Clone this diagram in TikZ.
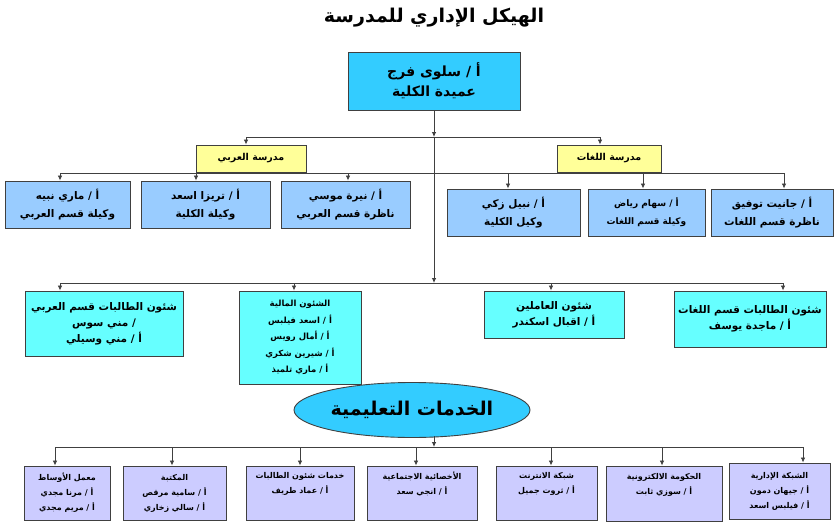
\documentclass[tikz,border=0pt]{standalone}
\usepackage{fontspec}
\usetikzlibrary{arrows.meta,shapes.geometric}
\TeXXeTstate=1
\newfontfamily\arfont[Script=Arabic]{DejaVu Sans}
\newcommand{\AR}[1]{\beginR #1\endR}
\definecolor{topc}{HTML}{33CCFF}
\definecolor{yelc}{HTML}{FFFF99}
\definecolor{r1c}{HTML}{99CCFF}
\definecolor{r2c}{HTML}{66FFFF}
\definecolor{r3c}{HTML}{CCCCFF}
\definecolor{linec}{HTML}{404040}
\begin{document}
\begin{tikzpicture}[x=1pt,y=-1pt,
  bx/.style={draw=linec, line width=0.9pt, inner sep=1pt, align=center, text=black},
  arr/.style={-{Latex[length=5pt,width=4.5pt]}, draw=linec, line width=0.8pt},
  ln/.style={draw=linec, line width=0.8pt},
  f20/.style={font=\arfont\bfseries\fontsize{19}{22}\selectfont},
  f15/.style={font=\arfont\bfseries\fontsize{14}{20}\selectfont},
  fy/.style={font=\arfont\bfseries\fontsize{9.5}{11}\selectfont},
  f11/.style={font=\arfont\bfseries\fontsize{10.5}{18}\selectfont},
  f11b/.style={font=\arfont\bfseries\fontsize{10.5}{16}\selectfont},
  f10/.style={font=\arfont\bfseries\fontsize{9}{18}\selectfont},
  fc2/.style={font=\arfont\bfseries\fontsize{8.5}{16.5}\selectfont},
  f8/.style={font=\arfont\bfseries\fontsize{8}{15}\selectfont}]
\useasboundingbox (0,0) rectangle (840,527);
\fill[white] (0,0) rectangle (840,527);

% title
\node[f20] (title) at (434,18) {\AR{الهيكل الإداري للمدرسة}};

% top box
\node[bx, fill=topc, minimum width=172pt, minimum height=58pt, f15] (top) at (434,81)
  {\AR{أ / سلوى فرج}\\\AR{عميدة الكلية}};

% yellow boxes
\node[bx, fill=yelc, minimum width=110pt, minimum height=27pt, fy] (ya) at (251,158.5) {\AR{مدرسة العربي}};
\node[bx, fill=yelc, minimum width=104pt, minimum height=27pt, fy] (yl) at (609,158.5) {\AR{مدرسة  اللغات}};

% row 1
\node[bx, fill=r1c, minimum width=125pt, minimum height=47pt, f11] (a1) at (67.5,204.5) {\AR{أ / ماري نبيه}\\\AR{وكيلة قسم العربي}};
\node[bx, fill=r1c, minimum width=129pt, minimum height=47pt, f11] (a2) at (205.5,204.5) {\AR{أ / تريزا اسعد}\\\AR{وكيلة الكلية}};
\node[bx, fill=r1c, minimum width=129pt, minimum height=47pt, f11] (a3) at (345.5,204.5) {\AR{أ / نيرة موسي}\\\AR{ناظرة قسم العربي}};
\node[bx, fill=r1c, minimum width=133pt, minimum height=47pt, f11] (a4) at (513.5,212.5) {\AR{أ / نبيل زكي}\\\AR{وكيل الكلية}};
\node[bx, fill=r1c, minimum width=117pt, minimum height=47pt, f10] (a5) at (646.5,212.5) {\AR{أ / سهام رياض}\\\AR{وكيلة قسم اللغات}};
\node[bx, fill=r1c, minimum width=122pt, minimum height=47pt, f11] (a6) at (772,212.5) {\AR{أ / جانيت توفيق}\\\AR{ناظرة قسم اللغات}};

% row 2
\node[bx, fill=r2c, minimum width=158pt, minimum height=65pt, f11b] (c1) at (104,323.5) {\AR{شئون الطالبات قسم العربي}\\\AR{/ مني سوس}\\\AR{أ / مني وسيلي}};
\node[bx, fill=r2c, minimum width=122pt, minimum height=93pt, fc2] (c2) at (300,337.5) {\AR{الشئون المالية}\\\AR{أ / اسعد فيلبس}\\\AR{أ / أمال رويس}\\\AR{أ / شيرين شكري}\\\AR{أ / ماري تلميذ}};
\node[bx, fill=r2c, minimum width=140pt, minimum height=47pt, f11b] (c3) at (554,314.5) {\AR{شئون العاملين}\\\AR{أ / اقبال اسكندر}};
\node[bx, fill=r2c, minimum width=152pt, minimum height=56pt, f11b] (c4) at (750,319) {\AR{شئون الطالبات قسم اللغات}\\\AR{أ / ماجدة يوسف}};

% ellipse
\node[ellipse, draw=linec, line width=0.9pt, fill=topc, inner sep=0pt, minimum width=236pt, minimum height=55pt, f20] (el) at (412,410) {\AR{الخدمات التعليمية}};

% bottom row
\node[bx, fill=r3c, minimum width=86pt, minimum height=54pt, f8] (e1) at (67,493) {\AR{معمل الأوساط}\\\AR{أ / مرنا مجدي}\\\AR{أ / مريم مجدي}};
\node[bx, fill=r3c, minimum width=103pt, minimum height=54pt, f8] (e2) at (174.5,493) {\AR{المكتبة}\\\AR{أ / سامية مرقص}\\\AR{أ / سالي زخاري}};
\node[bx, fill=r3c, minimum width=108pt, minimum height=54pt, f8] (e3) at (300,493) {\AR{خدمات شئون  الطالبات}\\\AR{أ / عماد طريف}\\\strut};
\node[bx, fill=r3c, minimum width=110pt, minimum height=54pt, f8] (e4) at (422,493) {\AR{الأخصائية  الاجتماعية}\\\AR{أ / انجي سعد}\\\strut};
\node[bx, fill=r3c, minimum width=101pt, minimum height=54pt, f8] (e5) at (546.5,493) {\AR{شبكة الانترنت}\\\AR{أ / ثروت جميل}\\\strut};
\node[bx, fill=r3c, minimum width=116pt, minimum height=55pt, f8] (e6) at (664,493.5) {\AR{الحكومة الالكترونية}\\\AR{أ / سوزي ثابت}\\\strut};
\node[bx, fill=r3c, minimum width=101pt, minimum height=56pt, f8] (e7) at (779.5,491) {\AR{الشبكة الإدارية}\\\AR{أ / جيهان دمون}\\\AR{أ / فيلبس اسعد}};

% connectors: top -> yellow
\coordinate (h1) at (434,137);
\coordinate (h1a) at (246,137);
\coordinate (h1b) at (600,137);
\draw[arr] (top.south) -- (h1);
\draw[ln] (h1a) -- (h1b);
\draw[arr] (h1a) -- (h1a |- ya.north);
\draw[arr] (h1b) -- (h1b |- yl.north);

% bus to row 1
\coordinate (p1) at (60,173);
\coordinate (p2) at (196,173);
\coordinate (p3) at (348,173);
\coordinate (p4) at (508,173);
\coordinate (p5) at (643,173);
\coordinate (p6) at (784,173);
\draw[ln] (p1) -- (p6);
\draw[arr] (p1) -- (p1 |- a1.north);
\draw[arr] (p2) -- (p2 |- a2.north);
\draw[arr] (p3) -- (p3 |- a3.north);
\draw[arr] (p4) -- (p4 |- a4.north);
\draw[arr] (p5) -- (p5 |- a5.north);
\draw[arr] (p6) -- (p6 |- a6.north);

% spine
\coordinate (h2) at (434,283);
\draw[arr] (h1) -- (h2);
\coordinate (q1) at (60,283);
\coordinate (q2) at (294,283);
\coordinate (q3) at (551,283);
\coordinate (q4) at (783,283);
\draw[ln] (q1) -- (q4);
\draw[arr] (q1) -- (q1 |- c1.north);
\draw[arr] (q2) -- (q2 |- c2.north);
\draw[arr] (q3) -- (q3 |- c3.north);
\draw[arr] (q4) -- (q4 |- c4.north);

% ellipse -> bottom row
\coordinate (h3) at (434,447);
\coordinate (es) at (434,436);
\draw[arr] (es) -- (h3);
\coordinate (r1) at (55,447);
\coordinate (r2) at (172,447);
\coordinate (r3) at (300,447);
\coordinate (r4) at (416,447);
\coordinate (r5) at (551,447);
\coordinate (r6) at (662,447);
\coordinate (r7) at (803,447);
\draw[ln] (r1) -- (r7);
\draw[arr] (r1) -- (r1 |- e1.north);
\draw[arr] (r2) -- (r2 |- e2.north);
\draw[arr] (r3) -- (r3 |- e3.north);
\draw[arr] (r4) -- (r4 |- e4.north);
\draw[arr] (r5) -- (r5 |- e5.north);
\draw[arr] (r6) -- (r6 |- e6.north);
\draw[arr] (r7) -- (r7 |- e7.north);
\end{tikzpicture}
\end{document}
